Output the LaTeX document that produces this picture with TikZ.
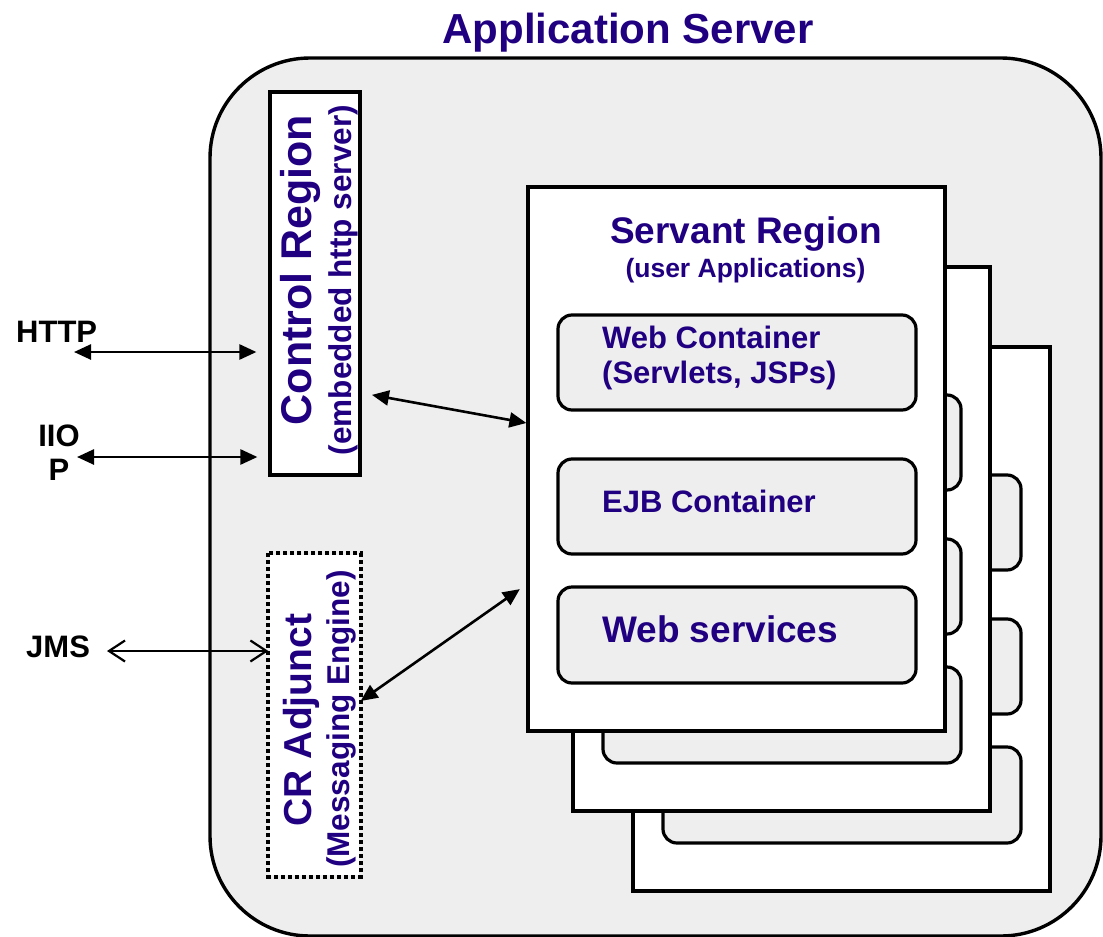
\documentclass[tikz,border=0pt]{standalone}
\usepackage{fontspec}
\setmainfont{Liberation Sans}
\usetikzlibrary{arrows.meta}
\definecolor{navy}{RGB}{32,0,128}
\definecolor{panel}{RGB}{238,238,238}
\begin{document}
\begin{tikzpicture}[x=1pt,y=-1pt,
  box/.style={draw=black, line width=3.2pt, fill=white, inner sep=0pt, rectangle},
  cont/.style={draw=black, line width=3.2pt, fill=panel, rounded corners=14pt,
    minimum width=358pt, minimum height=95pt, inner sep=0pt},
  ntext/.style={text=navy, inner sep=0pt},
  btext/.style={text=black, inner sep=0pt},
  fs/.style={font=\fontsize{#1}{#1}\selectfont\bfseries},
  dbl/.style={line width=2.6pt, {Triangle[length=17pt,width=15pt]}-{Triangle[length=17pt,width=15pt]}},
  open/.style={line width=2.2pt, {Straight Barb[length=16pt,width=21pt]}-{Straight Barb[length=16pt,width=21pt]}}
]
\useasboundingbox (0,0) rectangle (1103,937);

% outer application server
\node[draw=black, line width=3.4pt, fill=panel, rounded corners=100pt,
  minimum width=891pt, minimum height=878pt, inner sep=0pt] (as) at (655.5,497) {};
\node[ntext, fs=42, anchor=base] (title) at (628,43) {Application Server};

% control region and CR adjunct
\node[box, minimum width=90pt, minimum height=383pt] (cr) at (315,283.5) {};
\node[box, draw=none, minimum width=89pt, minimum height=320pt] (cra) at (314.5,715) {};
\draw[line width=4pt, dash pattern=on 4pt off 3pt] (cra.north west) rectangle (cra.south east);
\node[ntext, fs=43, rotate=90, anchor=base] (crT1) at (311,270) {Control Region};
\node[ntext, fs=31.5, rotate=90, anchor=base] (crT2) at (351,280) {(embedded http server)};
\node[ntext, fs=39, rotate=90, anchor=base] (craT1) at (311,720) {CR Adjunct};
\node[ntext, fs=31.5, rotate=90, anchor=base] (craT2) at (349.5,719) {(Messaging Engine)};

% servant region stack
\foreach \k/\bx/\by in {3/633/347, 2/573/267, 1/528/187} {
  \node[box, minimum width=417pt, minimum height=544pt] (sv\k) at (\bx+208.5,\by+272) {};
  \node[cont] (wc\k) at (\bx+209,\by+175.5) {};
  \node[cont] (ejb\k) at (\bx+209,\by+319.5) {};
  \node[cont, minimum height=96pt] (ws\k) at (\bx+209,\by+448) {};
}
\node[ntext, fs=37, anchor=base] (svT1) at (746,243) {Servant Region};
\node[ntext, fs=26.5, anchor=base] (svT2) at (745.5,277) {(user Applications)};
\node[ntext, fs=31, anchor=base west] (wcT1) at (602,348) {Web Container};
\node[ntext, fs=31, anchor=base west] (wcT2) at (602,383) {(Servlets, JSPs)};
\node[ntext, fs=31, anchor=base west] (ejbT) at (602,512) {EJB Container};
\node[ntext, fs=37, anchor=base west] (wsT) at (602,642) {Web services};

% left labels
\node[btext, fs=31, anchor=base west] (http) at (16,342) {HTTP};
\node[btext, fs=31, anchor=base] (iiop1) at (59,446) {IIO};
\node[btext, fs=31, anchor=base] (iiop2) at (59,480) {P};
\node[btext, fs=31, anchor=base west] (jms) at (26,657) {JMS};

% connectors
\coordinate (httpL) at (74,352);
\coordinate (iiopL) at (77,457);
\coordinate (jmsL) at (107,651);
\draw[dbl, shorten >=12pt] (httpL) -- (httpL -| cr.west);
\draw[dbl, shorten >=11pt] (iiopL) -- (iiopL -| cr.west);
\draw[open] (jmsL) -- (jmsL -| cra.west);
\draw[dbl, shorten <=10.5pt] (cr.east |- 0,393) -- (sv1.west |- 0,423);
\draw[dbl, shorten >=8pt] (cra.east |- 0,701) -- (sv1.west |- 0,584.5);
\end{tikzpicture}
\end{document}
